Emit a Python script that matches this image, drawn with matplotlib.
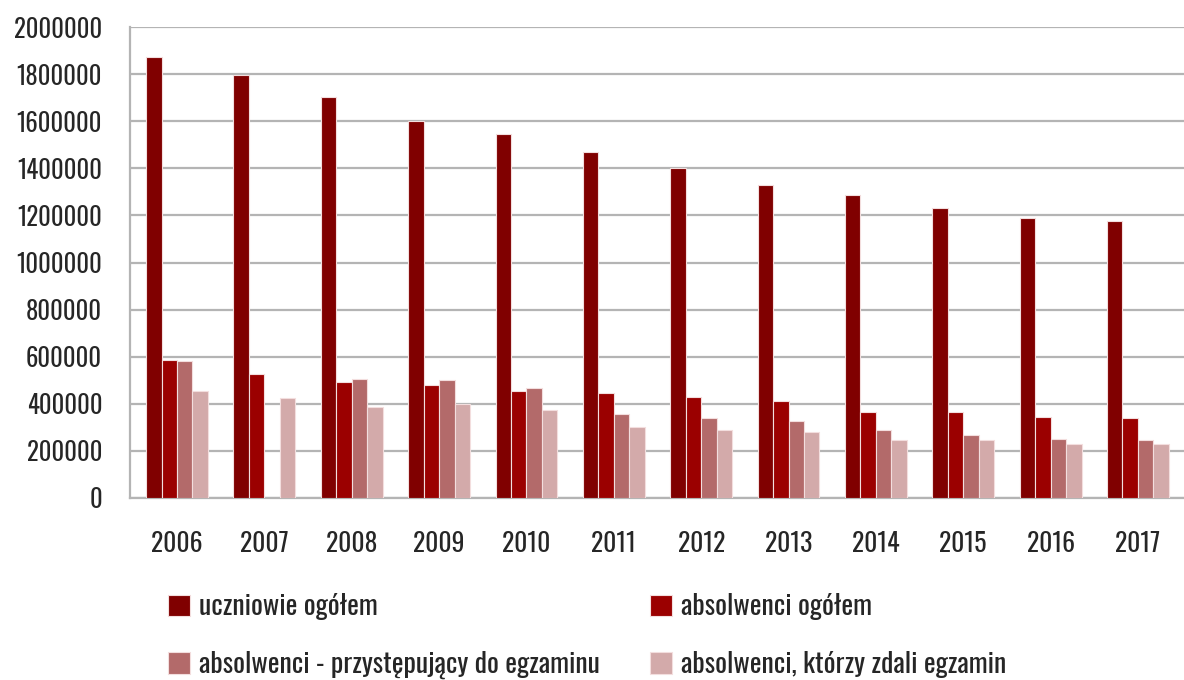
import numpy as np
import matplotlib
matplotlib.use("Agg")
import matplotlib.pyplot as plt

plt.rcParams['font.family'] = ['Oswald', 'Roboto Condensed', 'Barlow Condensed', 'DejaVu Sans']

years = ['2006', '2007', '2008', '2009', '2010', '2011',
         '2012', '2013', '2014', '2015', '2016', '2017']
uczniowie = [1874000, 1795000, 1701000, 1602000, 1544000, 1469000,
             1400000, 1327000, 1287000, 1232000, 1188000, 1176000]
absolwenci = [585000, 528000, 492000, 480000, 455000, 444000,
              430000, 411000, 364000, 364000, 344000, 338000]
przystepujacy = [580000, np.nan, 504000, 499000, 468000, 356000,
                 338000, 327000, 289000, 269000, 251000, 245000]
zdali = [455000, 423000, 386000, 399000, 375000, 300000,
         288000, 282000, 245000, 245000, 231000, 231000]

labels = ['uczniowie ogółem', 'absolwenci ogółem',
          'absolwenci - przystępujący do egzaminu', 'absolwenci, którzy zdali egzamin']
colors = ['#800000', '#9b0000', '#b36a6a', '#d3aaaa']
series = [uczniowie, absolwenci, przystepujacy, zdali]

TXT = '#262626'
GRID = '#b4b4b4'
FS = 17.8
LFS = 20

fig = plt.figure(figsize=(11.84, 6.8), dpi=100)
ax = fig.add_axes([130 / 1184, 1 - 498 / 680, 1 - 130 / 1184, (498 - 27) / 680])

x = np.arange(len(years))
w = 0.177
bars = []
for i, (vals, c, lab) in enumerate(zip(series, colors, labels)):
    b = ax.bar(x + (i - 1.5) * w, vals, width=w, color=c, edgecolor='#f3dede',
               linewidth=0.8, label=lab, zorder=3)
    bars.append(b)

ax.set_ylim(0, 2000000)
ax.set_xlim(-0.538, 11.527)
ax.set_yticks(np.arange(0, 2000001, 200000))
ax.set_yticklabels([str(v) for v in range(0, 2000001, 200000)])
ax.set_xticks(x)
ax.set_xticklabels(years)
ax.yaxis.grid(True, color=GRID, linewidth=1.6, zorder=0)
ax.tick_params(axis='y', length=0, labelsize=FS, colors=TXT, pad=20)
ax.tick_params(axis='x', length=0, labelsize=18.5, colors=TXT, pad=24)
for s in ['top', 'right']:
    ax.spines[s].set_visible(False)
for s in ['left', 'bottom']:
    ax.spines[s].set_color(GRID)
    ax.spines[s].set_linewidth(1.6)

order = [0, 2, 1, 3]
leg = fig.legend([bars[k] for k in order], [labels[k] for k in order],
                 loc='upper left', bbox_to_anchor=(168 / 1184, 1 - 593 / 680),
                 ncol=2, frameon=False, fontsize=LFS, handlelength=0.8,
                 handleheight=0.8, handletextpad=0.3, labelspacing=1.1,
                 columnspacing=1.83, borderaxespad=0, borderpad=0)
for t in leg.get_texts():
    t.set_color(TXT)

fig.savefig('out.png', dpi=100)
